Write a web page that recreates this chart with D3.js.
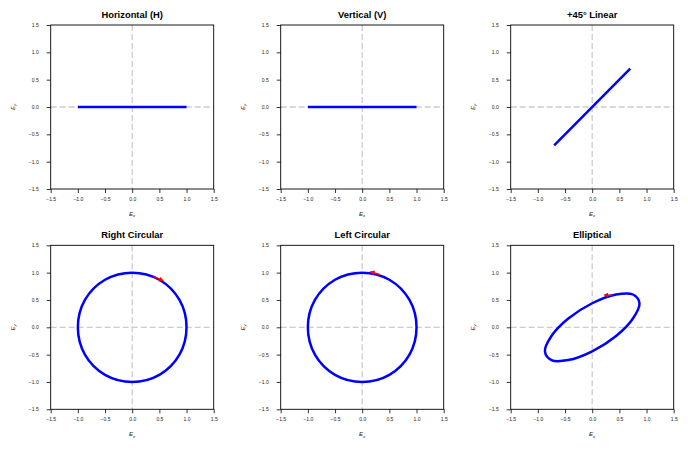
<!DOCTYPE html>
<html>
<head>
<meta charset="utf-8">
<script src="https://cdn.jsdelivr.net/npm/d3@7"></script>
<style>
  body { margin: 0; background: #fff; }
  svg { display: block; font-family: "Liberation Sans", Arial, sans-serif; }
</style>
</head>
<body>
<div id="chart"></div>
<script>
// panel titles, in reading order
const titles = ["Horizontal (H)", "Vertical (V)", "+45\u00b0 Linear", "Right Circular", "Left Circular", "Elliptical"];
const tickValues = [-1.5, -1.0, -0.5, 0.0, 0.5, 1.0, 1.5];

// field traces (Ex, Ey)
const horizontalPts = [[-1.0, 0.0], [1.0, 0.0]];
const verticalPts = [[-1.0, 0.0], [1.0, 0.0]];
const linear45Pts = [[-0.7, -0.7], [0.7, 0.7]];
const rightCircPts = [[1.0, 0.0], [0.87, 0.5], [0.5, 0.87], [0.0, 1.0], [-0.5, 0.87], [-0.87, 0.5],
  [-1.0, 0.0], [-0.87, -0.5], [-0.5, -0.87], [0.0, -1.0], [0.5, -0.87], [0.87, -0.5]];
const leftCircPts = [[1.0, 0.0], [0.87, 0.5], [0.5, 0.87], [0.0, 1.0], [-0.5, 0.87], [-0.87, 0.5],
  [-1.0, 0.0], [-0.87, -0.5], [-0.5, -0.87], [0.0, -1.0], [0.5, -0.87], [0.87, -0.5]];
const ellipticalPts = [[0.87, 0.44], [0.75, 0.6], [0.44, 0.6], [0.0, 0.44], [-0.44, 0.16], [-0.75, -0.16],
  [-0.87, -0.44], [-0.75, -0.6], [-0.44, -0.6], [0.0, -0.44], [0.44, -0.16], [0.75, 0.16]];

// red direction arrows: [tailX, tailY, headX, headY], null where none
const arrows = [null, null, null, [0.39, 0.925, 0.55, 0.86], [0.33, 0.96, 0.17, 1.01], [0.37, 0.585, 0.24, 0.59]];

const traces = [horizontalPts, verticalPts, linear45Pts, rightCircPts, leftCircPts, ellipticalPts];
const closed = [false, false, false, true, true, true];

const width = 688, height = 451;
const colLeft = [50.7, 280.7, 510.7];
const rowTop = [25, 245.3];
const pw = 163, ph = 164;

const svg = d3.select("#chart").append("svg")
  .attr("width", width)
  .attr("height", height);

const defs = svg.append("defs");
defs.append("marker")
  .attr("id", "arrowhead")
  .attr("viewBox", "0 0 10 10")
  .attr("refX", 6).attr("refY", 5)
  .attr("markerWidth", 5).attr("markerHeight", 5)
  .attr("markerUnits", "userSpaceOnUse")
  .attr("orient", "auto")
  .append("path")
  .attr("d", "M0,0 L10,5 L0,10 Z")
  .attr("fill", "red");

titles.forEach(function(title, i) {
  let col = i % 3, row = Math.floor(i / 3);
  let g = svg.append("g")
    .attr("transform", "translate(" + colLeft[col] + "," + rowTop[row] + ")");

  let x = d3.scaleLinear().domain([-1.5, 1.5]).range([0, pw]);
  let y = d3.scaleLinear().domain([-1.5, 1.5]).range([ph, 0]);

  // dashed zero lines
  g.append("line")
    .attr("x1", x(0)).attr("x2", x(0)).attr("y1", 0).attr("y2", ph)
    .attr("stroke", "#cccccc").attr("stroke-width", 1.3).attr("stroke-dasharray", "6,3");
  g.append("line")
    .attr("x1", 0).attr("x2", pw).attr("y1", y(0)).attr("y2", y(0))
    .attr("stroke", "#cccccc").attr("stroke-width", 1.3).attr("stroke-dasharray", "6,3");

  let line = d3.line()
    .x(d => x(d[0]))
    .y(d => y(d[1]))
    .curve(closed[i] ? d3.curveCatmullRomClosed : d3.curveLinear);

  g.append("path")
    .attr("d", line(traces[i]))
    .attr("fill", "none")
    .attr("stroke", "#0000ff")
    .attr("stroke-width", 2.5);

  if (arrows[i]) {
    let a = arrows[i];
    g.append("line")
      .attr("x1", x(a[0])).attr("y1", y(a[1]))
      .attr("x2", x(a[2])).attr("y2", y(a[3]))
      .attr("stroke", "red").attr("stroke-width", 1.6)
      .attr("marker-end", "url(#arrowhead)");
  }

  let fmt = d3.format(".1f");
  let xAxis = d3.axisBottom(x).tickValues(tickValues).tickFormat(fmt).tickSizeInner(4).tickSizeOuter(0).tickPadding(4);
  let yAxis = d3.axisLeft(y).tickValues(tickValues).tickFormat(fmt).tickSizeInner(4).tickSizeOuter(0).tickPadding(8);

  let gx = g.append("g").attr("transform", "translate(0," + ph + ")").call(xAxis);
  let gy = g.append("g").call(yAxis);
  [gx, gy].forEach(function(ax) {
    ax.select(".domain").remove();
    ax.selectAll("line").attr("stroke", "#000").attr("stroke-width", 0.8);
    ax.selectAll("text")
      .style("font-size", "5px")
      .style("font-family", "'Liberation Sans', Arial, sans-serif")
      .attr("fill", "#222");
  });

  // frame
  g.append("rect")
    .attr("width", pw).attr("height", ph)
    .attr("fill", "none").attr("stroke", "#000").attr("stroke-width", 0.9);

  g.append("text")
    .text(title)
    .attr("x", pw / 2)
    .attr("y", -7)
    .attr("text-anchor", "middle")
    .style("font-size", "9.4px")
    .style("font-weight", "bold");

  let xl = g.append("text")
    .attr("x", pw / 2)
    .attr("y", ph + 27)
    .attr("text-anchor", "middle")
    .style("font-size", "6px")
    .style("font-style", "italic")
    .attr("fill", "#222");
  xl.append("tspan").text("E");
  xl.append("tspan").text("x").attr("dy", 1.3).style("font-size", "4.4px");

  let yl = g.append("text")
    .attr("transform", "translate(-36," + (ph / 2) + ") rotate(-90)")
    .attr("text-anchor", "middle")
    .style("font-size", "6px")
    .style("font-style", "italic")
    .attr("fill", "#222");
  yl.append("tspan").text("E");
  yl.append("tspan").text("y").attr("dy", 1.3).style("font-size", "4.4px");
});
</script>
</body>
</html>
